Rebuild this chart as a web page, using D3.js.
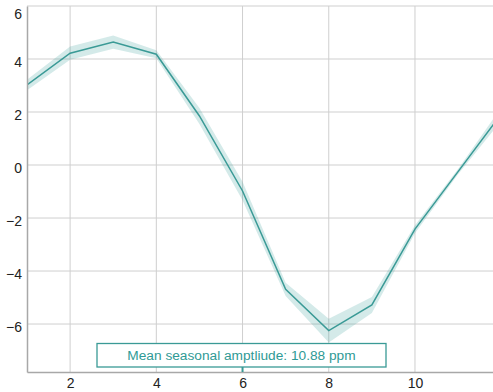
<!DOCTYPE html>
<html>
<head>
<meta charset="utf-8">
<script src="https://cdn.jsdelivr.net/npm/d3@7"></script>
<style>
  body { margin: 0; background: #fff; }
  text { font-family: "Liberation Sans", Arial, sans-serif; }
</style>
</head>
<body>
<svg width="493" height="392"></svg>
<script>
// monthly mean seasonal cycle (ppm) with uncertainty band
var months = [1, 2, 3, 4, 5, 6, 7, 8, 9, 10, 11, 12];
var mean   = [3.02, 4.22, 4.64, 4.18, 1.85, -0.98, -4.69, -6.25, -5.28, -2.42, -0.25, 1.92];
var lower  = [2.82, 3.97, 4.39, 4.03, 1.55, -1.33, -4.94, -6.70, -5.58, -2.57, -0.35, 1.67];
var upper  = [3.22, 4.47, 4.89, 4.33, 2.15, -0.63, -4.44, -5.80, -4.98, -2.27, -0.15, 2.17];
var xTicks = [2, 4, 6, 8, 10];
var yTicks = [-6, -4, -2, 0, 2, 4, 6];
var note = "Mean seasonal amptliude: 10.88 ppm";

var svg = d3.select("svg");
var pl = 27, pr = 493, pt = 6, pb = 372;

var x = d3.scaleLinear().domain([1, 11.81]).range([pl, pr]);
var y = d3.scaleLinear().domain([-7.81, 6]).range([pb, pt]);

var data = months.map(function(m, i) {
    return {m: m, v: mean[i], lo: lower[i], hi: upper[i]};
});

svg.append("clipPath").attr("id", "plot")
  .append("rect")
    .attr("x", pl).attr("y", pt - 1)
    .attr("width", pr - pl).attr("height", pb - pt + 1);

// grid
var grid = svg.append("g").attr("class", "grid");
grid.selectAll("line.gx").data(xTicks).enter().append("line")
    .attr("x1", function(d) { return x(d); })
    .attr("x2", function(d) { return x(d); })
    .attr("y1", pt).attr("y2", pb)
    .attr("stroke", "#cfcfcf").attr("stroke-width", 1);
grid.selectAll("line.gy").data(yTicks).enter().append("line")
    .attr("x1", pl).attr("x2", pr)
    .attr("y1", function(d) { return y(d); })
    .attr("y2", function(d) { return y(d); })
    .attr("stroke", "#cfcfcf").attr("stroke-width", 1);

var g = svg.append("g").attr("clip-path", "url(#plot)");

g.append("path")
    .datum(data)
    .attr("fill", "#3b9e99")
    .attr("fill-opacity", 0.22)
    .attr("d", d3.area()
        .x(function(d) { return x(d.m); })
        .y0(function(d) { return y(d.lo); })
        .y1(function(d) { return y(d.hi); }));

g.append("path")
    .datum(data)
    .attr("fill", "none")
    .attr("stroke", "#3a9a96")
    .attr("stroke-width", 1.5)
    .attr("d", d3.line()
        .x(function(d) { return x(d.m); })
        .y(function(d) { return y(d.v); }));

// axes
var yAxis = svg.append("g")
    .attr("transform", "translate(" + pl + ",0)")
    .call(d3.axisLeft(y).tickValues(yTicks).tickSize(0).tickPadding(5)
        .tickFormat(d3.format("d")));
yAxis.select(".domain").attr("stroke", "#a8a8a8").attr("stroke-width", 1.5);
yAxis.selectAll("text")
    .attr("font-size", 14).attr("fill", "#222")
    .attr("dy", function(d) { return d === 6 ? "0.9em" : "0.55em"; });

var xAxis = svg.append("g")
    .attr("transform", "translate(0," + pb + ")")
    .call(d3.axisBottom(x).tickValues(xTicks).tickSize(0).tickPadding(6));
xAxis.select(".domain").attr("stroke", "#a8a8a8").attr("stroke-width", 1.5);
xAxis.selectAll("text").attr("font-size", 14).attr("fill", "#222");

// annotation
var ann = svg.append("g");
ann.append("line")
    .attr("x1", x(6)).attr("x2", x(6))
    .attr("y1", 367).attr("y2", pb)
    .attr("stroke", "#3a9a96").attr("stroke-width", 2);
ann.append("rect")
    .attr("x", 97).attr("y", 343.5)
    .attr("width", 289).attr("height", 23.5)
    .attr("fill", "#fff")
    .attr("stroke", "#3a9a96").attr("stroke-width", 1.3);
ann.append("text")
    .attr("x", 241.5).attr("y", 360)
    .attr("text-anchor", "middle")
    .attr("font-size", 13.7)
    .attr("fill", "#2f9a95")
    .text(note);
</script>
</body>
</html>
